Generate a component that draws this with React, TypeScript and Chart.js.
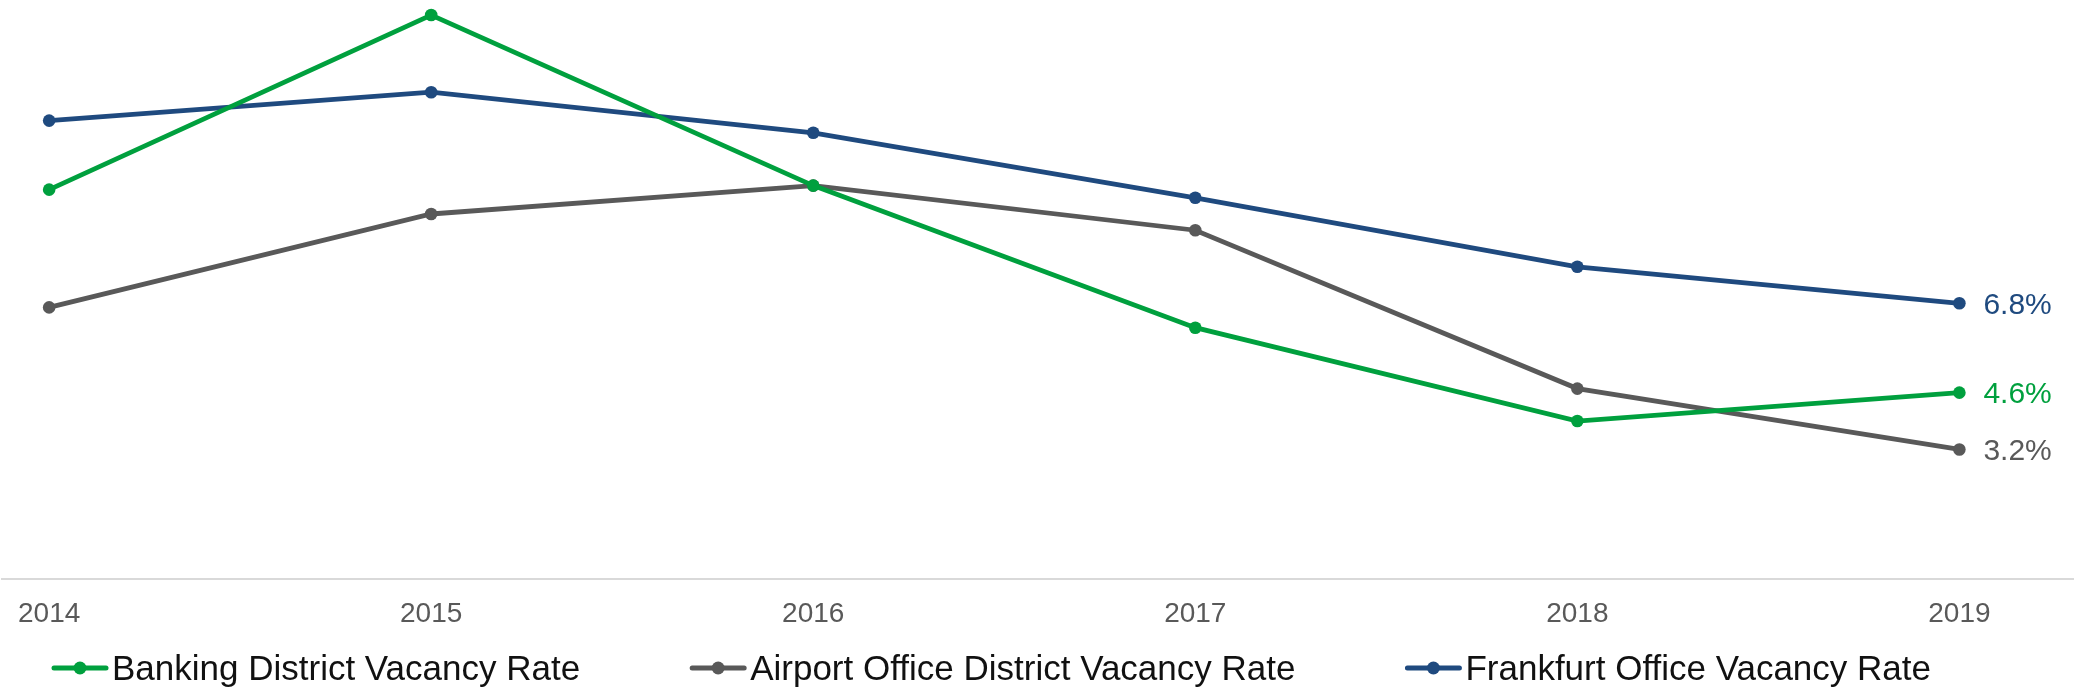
import React, { useEffect, useRef } from "react";
import { Chart, registerables } from "chart.js";

Chart.register(...registerables);

const years = [2014, 2015, 2016, 2017, 2018, 2019];
const bankingRates = [9.6, 13.9, 9.7, 6.2, 3.9, 4.6];
const airportRates = [6.7, 9.0, 9.7, 8.6, 4.7, 3.2];
const frankfurtRates = [11.3, 12.0, 11.0, 9.4, 7.7, 6.8];
const seriesNames = [
  "Banking District Vacancy Rate",
  "Airport Office District Vacancy Rate",
  "Frankfurt Office Vacancy Rate",
];
const seriesColors = ["#00A03E", "#595959", "#1F4A7F"];

const FONT = "'Liberation Sans', Arial, sans-serif";

export default function App() {
  const ref = useRef<HTMLCanvasElement>(null);

  useEffect(() => {
    document.body.style.margin = "0";
    const canvas = ref.current;
    if (!canvas) return;

    const seriesValues = [bankingRates, airportRates, frankfurtRates];

    const endLabels = {
      id: "endLabels",
      afterDatasetsDraw(chart: any) {
        const ctx = chart.ctx;
        ctx.save();
        ctx.font = `30px ${FONT}`;
        ctx.textBaseline = "middle";
        ctx.textAlign = "left";
        chart.data.datasets.forEach((ds: any, i: number) => {
          const meta = chart.getDatasetMeta(i);
          const pt = meta.data[meta.data.length - 1];
          const v = ds.data[ds.data.length - 1].y;
          ctx.fillStyle = ds.borderColor;
          ctx.fillText(`${v.toFixed(1)}%`, pt.x + 24, pt.y + 2);
        });
        ctx.restore();
      },
    };

    const customLegend = {
      id: "customLegend",
      afterDraw(chart: any) {
        const ctx = chart.ctx;
        ctx.save();
        ctx.font = `35px ${FONT}`;
        ctx.textBaseline = "alphabetic";
        ctx.textAlign = "left";
        let x = 52;
        const y = 668;
        chart.data.datasets.forEach((ds: any) => {
          ctx.strokeStyle = ds.borderColor;
          ctx.fillStyle = ds.borderColor;
          ctx.lineWidth = 5;
          ctx.lineCap = "round";
          ctx.beginPath();
          ctx.moveTo(x + 2, y);
          ctx.lineTo(x + 54, y);
          ctx.stroke();
          ctx.beginPath();
          ctx.arc(x + 28, y, 6.5, 0, Math.PI * 2);
          ctx.fill();
          ctx.fillStyle = "#111111";
          ctx.fillText(ds.label, x + 60, y + 12);
          const w = ctx.measureText(ds.label).width;
          x += 60 + w + 110;
        });
        ctx.restore();
      },
    };

    const chart = new Chart(canvas, {
      type: "line",
      data: {
        datasets: seriesNames.map((name, i) => ({
          label: name,
          data: years.map((yr, j) => ({ x: yr, y: seriesValues[i][j] })),
          borderColor: seriesColors[i],
          backgroundColor: seriesColors[i],
          borderWidth: 4.8,
          pointRadius: 6.3,
          pointHoverRadius: 6.3,
          pointBorderWidth: 0,
          tension: 0,
          clip: false as any,
        })),
      },
      options: {
        responsive: false,
        animation: false,
        layout: { autoPadding: false, padding: { top: 11, bottom: 43, left: 0, right: 0 } },
        plugins: {
          legend: { display: false },
          tooltip: { enabled: false },
        },
        scales: {
          x: {
            type: "linear",
            min: 2013.877,
            max: 2019.3,
            afterBuildTicks: (scale: any) => {
              scale.ticks = years.map((v) => ({ value: v }));
            },
            grid: { display: false, drawTicks: false },
            border: { display: true, color: "#D9D9D9", width: 2 },
            ticks: {
              padding: 18,
              color: "#595959",
              font: { family: FONT, size: 28 },
              maxRotation: 0,
              autoSkip: false,
              callback: (v: any) => String(v),
            },
          },
          y: {
            display: false,
            min: 0,
            max: 14,
          },
        },
      },
      plugins: [endLabels, customLegend],
    });

    return () => chart.destroy();
  }, []);

  return (
    <div style={{ position: "absolute", left: 0, top: 0, width: 2074, height: 692 }}>
      <canvas ref={ref} width={2074} height={692} />
    </div>
  );
}
